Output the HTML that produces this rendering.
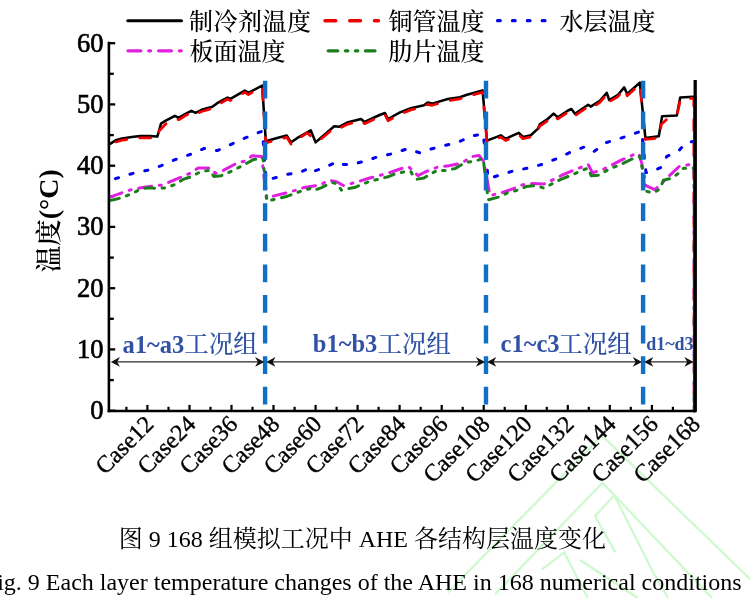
<!DOCTYPE html>
<html><head><meta charset="utf-8">
<style>
html,body{margin:0;padding:0;background:#fff;}
body{width:750px;height:598px;overflow:hidden;position:relative;}
svg{position:absolute;left:0;top:0;}
.tl{font-family:"Liberation Serif","Noto Serif CJK SC",serif;font-size:26.5px;fill:#000;stroke:#000;stroke-width:0.65px;}
.xl{font-family:"Liberation Serif",serif;font-size:24px;fill:#000;stroke:#000;stroke-width:0.35px;}
.lg{font-family:"Liberation Serif","Noto Serif CJK SC",serif;font-size:24px;font-weight:500;fill:#000;}
.gpl{font-family:"Liberation Serif",serif;font-size:24.5px;font-weight:bold;fill:#3152a4;}
.gpc{font-family:"Liberation Serif","Noto Serif CJK SC",serif;font-size:24.5px;font-weight:500;fill:#3152a4;}
.cap{font-family:"Liberation Serif","Noto Serif CJK SC",serif;font-size:24px;fill:#000;}
.yl{font-family:"Liberation Serif","Noto Serif CJK SC",serif;font-size:26px;fill:#000;}
</style></head>
<body>
<svg width="750" height="598" viewBox="0 0 750 598">
<g fill="none" stroke="#cdf9cd" stroke-width="2.2" stroke-linejoin="miter">
<polyline points="447.8,592.4 602,435.6 750,579"/>
<polyline points="495,594.4 602.5,482.8 712,598"/>
<polyline points="615.3,552.4 595,516 614.3,495.3 652.8,571.7 668,598"/>
<polyline points="541.7,569.6 564.2,552.4 587.7,598"/>
<polyline points="580,560 637.8,598"/>
</g>
<line x1="108.9" y1="410.7" x2="115.2" y2="410.7" stroke="#000" stroke-width="2.3"/>
<line x1="108.9" y1="380.1" x2="113.8" y2="380.1" stroke="#000" stroke-width="2.3"/>
<line x1="108.9" y1="349.4" x2="115.2" y2="349.4" stroke="#000" stroke-width="2.3"/>
<line x1="108.9" y1="318.8" x2="113.8" y2="318.8" stroke="#000" stroke-width="2.3"/>
<line x1="108.9" y1="288.2" x2="115.2" y2="288.2" stroke="#000" stroke-width="2.3"/>
<line x1="108.9" y1="257.6" x2="113.8" y2="257.6" stroke="#000" stroke-width="2.3"/>
<line x1="108.9" y1="226.9" x2="115.2" y2="226.9" stroke="#000" stroke-width="2.3"/>
<line x1="108.9" y1="196.3" x2="113.8" y2="196.3" stroke="#000" stroke-width="2.3"/>
<line x1="108.9" y1="165.7" x2="115.2" y2="165.7" stroke="#000" stroke-width="2.3"/>
<line x1="108.9" y1="135.1" x2="113.8" y2="135.1" stroke="#000" stroke-width="2.3"/>
<line x1="108.9" y1="104.4" x2="115.2" y2="104.4" stroke="#000" stroke-width="2.3"/>
<line x1="108.9" y1="73.8" x2="113.8" y2="73.8" stroke="#000" stroke-width="2.3"/>
<line x1="108.9" y1="43.2" x2="115.2" y2="43.2" stroke="#000" stroke-width="2.3"/>
<line x1="126.4" y1="410.7" x2="126.4" y2="406.8" stroke="#000" stroke-width="2.2"/>
<line x1="147.4" y1="410.7" x2="147.4" y2="404.9" stroke="#000" stroke-width="2.2"/>
<line x1="168.5" y1="410.7" x2="168.5" y2="406.8" stroke="#000" stroke-width="2.2"/>
<line x1="189.5" y1="410.7" x2="189.5" y2="404.9" stroke="#000" stroke-width="2.2"/>
<line x1="210.5" y1="410.7" x2="210.5" y2="406.8" stroke="#000" stroke-width="2.2"/>
<line x1="231.5" y1="410.7" x2="231.5" y2="404.9" stroke="#000" stroke-width="2.2"/>
<line x1="252.5" y1="410.7" x2="252.5" y2="406.8" stroke="#000" stroke-width="2.2"/>
<line x1="273.5" y1="410.7" x2="273.5" y2="404.9" stroke="#000" stroke-width="2.2"/>
<line x1="294.6" y1="410.7" x2="294.6" y2="406.8" stroke="#000" stroke-width="2.2"/>
<line x1="315.6" y1="410.7" x2="315.6" y2="404.9" stroke="#000" stroke-width="2.2"/>
<line x1="336.6" y1="410.7" x2="336.6" y2="406.8" stroke="#000" stroke-width="2.2"/>
<line x1="357.6" y1="410.7" x2="357.6" y2="404.9" stroke="#000" stroke-width="2.2"/>
<line x1="378.6" y1="410.7" x2="378.6" y2="406.8" stroke="#000" stroke-width="2.2"/>
<line x1="399.6" y1="410.7" x2="399.6" y2="404.9" stroke="#000" stroke-width="2.2"/>
<line x1="420.7" y1="410.7" x2="420.7" y2="406.8" stroke="#000" stroke-width="2.2"/>
<line x1="441.7" y1="410.7" x2="441.7" y2="404.9" stroke="#000" stroke-width="2.2"/>
<line x1="462.7" y1="410.7" x2="462.7" y2="406.8" stroke="#000" stroke-width="2.2"/>
<line x1="483.7" y1="410.7" x2="483.7" y2="404.9" stroke="#000" stroke-width="2.2"/>
<line x1="504.7" y1="410.7" x2="504.7" y2="406.8" stroke="#000" stroke-width="2.2"/>
<line x1="525.8" y1="410.7" x2="525.8" y2="404.9" stroke="#000" stroke-width="2.2"/>
<line x1="546.8" y1="410.7" x2="546.8" y2="406.8" stroke="#000" stroke-width="2.2"/>
<line x1="567.8" y1="410.7" x2="567.8" y2="404.9" stroke="#000" stroke-width="2.2"/>
<line x1="588.8" y1="410.7" x2="588.8" y2="406.8" stroke="#000" stroke-width="2.2"/>
<line x1="609.8" y1="410.7" x2="609.8" y2="404.9" stroke="#000" stroke-width="2.2"/>
<line x1="630.8" y1="410.7" x2="630.8" y2="406.8" stroke="#000" stroke-width="2.2"/>
<line x1="651.9" y1="410.7" x2="651.9" y2="404.9" stroke="#000" stroke-width="2.2"/>
<line x1="672.9" y1="410.7" x2="672.9" y2="406.8" stroke="#000" stroke-width="2.2"/>
<line x1="693.9" y1="410.7" x2="693.9" y2="404.9" stroke="#000" stroke-width="2.2"/>
<polyline points="109.8,144.1 115.7,140.3 122.1,138.5 131.7,137.1 140.2,136.1 149.8,136.1 157.3,136.6 158.9,131.3 161.0,123.6 165.8,120.6 174.9,115.8 178.6,117.9 185.0,114.2 191.4,110.8 195.6,112.8 201.6,109.8 212.4,106.8 217.2,103.2 227.4,97.6 230.4,98.8 244.8,90.6 248.4,92.8 262.2,85.6 265.8,141.2 279.0,137.6 286.8,135.6 291.0,142.4 297.0,138.2 310.8,130.4 315.6,142.4 320.4,138.2 334.2,126.2 339.0,126.8 347.2,122.6 361.0,119.0 364.6,122.0 379.6,115.0 385.0,113.0 388.0,119.0 400.0,112.4 410.8,108.2 424.0,105.2 427.6,102.6 432.2,103.6 447.8,99.0 459.8,97.2 467.0,94.8 482.6,90.4 487.0,140.6 500.8,135.4 505.6,138.8 518.8,132.8 523.0,137.0 530.8,135.2 538.0,128.6 539.8,124.4 547.6,119.0 553.6,113.6 557.8,117.2 568.0,110.5 571.4,109.0 575.0,113.8 588.2,104.8 590.6,106.6 599.6,101.0 606.8,92.8 609.2,100.0 617.6,95.2 624.2,87.4 627.2,94.0 639.8,82.6 645.4,138.0 658.8,136.2 662.1,116.2 676.8,115.5 680.2,97.4 692.9,96.8 695.2,96.8 695.2,411.0" fill="none" stroke="#000" stroke-width="2.55" stroke-linejoin="round"/>
<polyline points="109.8,145.8 115.7,142.0 122.1,140.2 131.7,138.8 140.2,137.8 149.8,137.8 157.3,138.3 159.0,131.0 168.5,121.3 179.7,119.3 185.0,115.8 191.4,112.5 195.6,114.5 201.6,111.5 212.4,108.5 217.2,104.9 227.4,99.3 230.4,100.5 244.8,92.3 248.4,94.5 262.2,87.3 265.8,142.9 279.0,139.3 286.8,137.3 291.0,144.1 296.4,140.0 307.2,132.8 315.0,140.0 320.4,139.5 334.2,127.9 339.0,128.5 347.2,124.3 361.0,120.7 364.6,123.7 379.6,116.7 385.0,114.7 388.0,120.7 400.0,114.1 410.8,109.9 424.0,106.9 427.6,104.3 432.2,105.3 447.8,100.7 459.8,98.9 467.0,96.5 482.6,92.1 487.0,142.3 500.8,137.1 505.6,140.5 518.8,134.5 523.0,138.7 530.8,136.9 538.0,130.3 539.8,126.1 547.6,120.7 553.6,115.3 557.8,118.9 568.0,112.2 571.4,110.7 575.0,115.5 588.2,106.5 590.6,108.3 599.6,102.7 606.8,94.5 609.2,101.7 617.6,96.9 624.2,89.1 627.2,95.7 639.8,84.3 645.4,139.5 658.8,137.8 661.4,124.2 669.5,116.8 677.5,112.8 680.6,98.8 692.2,98.4 693.8,98.8 694.2,411.0" fill="none" stroke="#f00000" stroke-width="2.75" stroke-dasharray="11 13.2" stroke-dashoffset="17" stroke-linecap="round" stroke-linejoin="round"/>
<polyline points="109.5,180.5 118.8,177.6 135.6,172.6 150.0,169.8 161.4,165.6 175.8,159.4 190.8,154.2 204.2,148.4 217.4,150.6 230.6,144.6 243.8,138.6 258.2,132.6 262.5,131.2 266.0,180.0 269.4,179.4 286.2,174.6 300.0,172.2 311.0,167.5 314.5,171.0 323.4,168.0 336.6,162.0 339.0,164.2 350.2,164.8 364.0,161.4 379.0,156.4 392.2,153.8 407.2,148.8 419.8,152.8 430.0,149.2 445.4,145.4 459.8,141.4 471.2,136.2 483.2,133.8 488.2,178.8 500.8,174.6 515.2,170.4 529.6,167.8 542.8,164.2 557.8,158.2 571.4,151.8 585.8,146.4 594.2,151.4 605.6,142.8 618.2,139.0 630.2,135.0 641.6,131.0 646.0,172.5 648.7,172.8 660.8,167.5 666.8,156.4 678.2,151.4 686.2,142.5 692.9,141.4 694.3,142.0 694.3,411.0" fill="none" stroke="#0000ee" stroke-width="3.0" stroke-dasharray="3.2 12" stroke-dashoffset="9" stroke-linecap="round" stroke-linejoin="round"/>
<polyline points="109.5,197.0 112.8,196.2 125.4,191.4 133.8,189.0 141.0,187.8 153.0,186.0 162.6,185.0 168.6,182.4 183.0,176.2 189.8,173.4 198.2,168.0 210.8,168.0 215.6,173.4 223.4,170.4 236.6,163.2 245.6,160.8 252.2,155.8 261.8,156.6 266.4,198.6 273.0,196.2 287.4,192.6 295.8,190.2 303.0,187.8 313.8,186.0 321.0,184.8 328.2,180.0 336.6,181.8 343.7,185.6 358.0,181.6 370.6,177.8 385.6,173.8 391.6,172.0 400.0,169.0 408.4,166.6 418.0,175.6 425.2,172.0 438.2,166.8 449.0,165.8 458.6,163.8 465.2,160.8 471.8,156.6 479.0,155.4 483.8,161.4 490.0,195.6 502.0,192.6 514.0,188.4 522.4,184.8 532.0,183.6 544.0,184.0 551.2,180.6 562.0,175.2 570.8,171.4 579.8,167.8 588.2,164.6 592.4,172.8 600.8,170.4 610.4,165.8 621.2,160.2 629.6,156.6 636.8,153.0 639.2,154.8 642.0,164.1 646.0,185.6 654.7,189.6 660.8,184.2 668.8,176.2 679.5,166.2 692.2,164.1 694.3,164.0 694.3,411.0" fill="none" stroke="#e020e0" stroke-width="3.0" stroke-dasharray="13 7.8 2 7.8" stroke-linecap="round" stroke-linejoin="round"/>
<polyline points="109.5,200.5 113.4,199.8 123.0,197.4 132.6,193.2 142.2,188.4 149.4,187.8 156.6,188.4 166.2,187.8 175.8,184.2 183.0,179.4 192.2,176.4 200.6,171.6 210.2,170.2 213.8,176.4 221.0,175.8 230.6,171.6 239.0,167.4 246.8,163.2 253.4,159.6 263.0,158.4 267.0,201.0 277.8,198.6 287.4,196.2 297.0,192.6 305.4,189.6 311.4,188.4 314.4,190.2 321.0,187.8 331.8,182.4 337.8,184.2 341.4,190.2 345.0,189.0 354.4,187.6 368.8,181.6 378.4,179.2 388.0,176.8 395.2,173.8 403.6,172.0 410.8,171.4 412.6,175.0 416.8,179.2 424.0,178.0 428.8,175.0 437.0,170.4 445.4,170.4 455.0,168.6 461.0,165.0 468.2,162.0 474.2,161.4 483.2,158.4 488.2,199.8 499.6,196.8 508.0,192.6 517.6,190.2 526.0,186.6 535.6,185.4 544.0,188.2 552.4,183.6 562.0,178.8 570.8,175.4 579.2,171.6 588.2,168.0 591.2,175.8 598.4,175.2 610.4,168.6 622.4,163.8 632.0,159.0 639.8,156.6 642.7,170.8 644.7,190.9 653.4,192.9 660.1,188.9 663.4,180.2 671.5,178.2 678.2,173.5 683.5,168.2 691.5,168.2 694.3,168.0 694.3,411.0" fill="none" stroke="#1a7f1a" stroke-width="3.0" stroke-dasharray="10 7.5 2.5 7.5 2.5 7.5" stroke-linecap="round" stroke-linejoin="round"/>
<line x1="693.9" y1="98.5" x2="693.9" y2="411" stroke="#f00000" stroke-width="1.6"/>
<line x1="695.2" y1="80" x2="695.2" y2="411" stroke="#000" stroke-width="3.3"/>
<line x1="265.1" y1="80.8" x2="265.1" y2="411" stroke="#1170c6" stroke-width="4.4" stroke-dasharray="17.8 12.8"/>
<line x1="486.0" y1="80.8" x2="486.0" y2="411" stroke="#1170c6" stroke-width="4.4" stroke-dasharray="17.8 12.8"/>
<line x1="643.1" y1="80.8" x2="643.1" y2="411" stroke="#1170c6" stroke-width="4.4" stroke-dasharray="17.8 12.8"/>
<line x1="108.9" y1="41.8" x2="108.9" y2="412.3" stroke="#000" stroke-width="2.6"/>
<line x1="107.60000000000001" y1="411.0" x2="696.7" y2="411.0" stroke="#000" stroke-width="2.6"/>
<line x1="113.8" y1="361.9" x2="261.3" y2="361.9" stroke="#2a2a2a" stroke-width="1.25"/><path d="M110.8,361.9 l9.2,-4.9 l-2.8,4.9 l2.8,4.9 z" fill="#111"/><path d="M264.3,361.9 l-9.2,-4.9 l2.8,4.9 l-2.8,4.9 z" fill="#111"/>
<line x1="269.3" y1="361.9" x2="482.1" y2="361.9" stroke="#2a2a2a" stroke-width="1.25"/><path d="M266.3,361.9 l9.2,-4.9 l-2.8,4.9 l2.8,4.9 z" fill="#111"/><path d="M485.1,361.9 l-9.2,-4.9 l2.8,4.9 l-2.8,4.9 z" fill="#111"/>
<line x1="490.1" y1="361.9" x2="639.0" y2="361.9" stroke="#2a2a2a" stroke-width="1.25"/><path d="M487.1,361.9 l9.2,-4.9 l-2.8,4.9 l2.8,4.9 z" fill="#111"/><path d="M642.0,361.9 l-9.2,-4.9 l2.8,4.9 l-2.8,4.9 z" fill="#111"/>
<line x1="647.1" y1="361.9" x2="690.6" y2="361.9" stroke="#2a2a2a" stroke-width="1.25"/><path d="M644.1,361.9 l9.2,-4.9 l-2.8,4.9 l2.8,4.9 z" fill="#111"/><path d="M693.6,361.9 l-9.2,-4.9 l2.8,4.9 l-2.8,4.9 z" fill="#111"/>
<text x="103.5" y="419.0" class="tl" text-anchor="end">0</text>
<text x="103.5" y="357.8" class="tl" text-anchor="end">10</text>
<text x="103.5" y="296.5" class="tl" text-anchor="end">20</text>
<text x="103.5" y="235.2" class="tl" text-anchor="end">30</text>
<text x="103.5" y="174.0" class="tl" text-anchor="end">40</text>
<text x="103.5" y="112.7" class="tl" text-anchor="end">50</text>
<text x="103.5" y="51.5" class="tl" text-anchor="end">60</text>
<text class="xl" text-anchor="end" transform="translate(154.9,425.5) rotate(-45)">Case12</text>
<text class="xl" text-anchor="end" transform="translate(197.0,425.5) rotate(-45)">Case24</text>
<text class="xl" text-anchor="end" transform="translate(239.0,425.5) rotate(-45)">Case36</text>
<text class="xl" text-anchor="end" transform="translate(281.0,425.5) rotate(-45)">Case48</text>
<text class="xl" text-anchor="end" transform="translate(323.1,425.5) rotate(-45)">Case60</text>
<text class="xl" text-anchor="end" transform="translate(365.1,425.5) rotate(-45)">Case72</text>
<text class="xl" text-anchor="end" transform="translate(407.1,425.5) rotate(-45)">Case84</text>
<text class="xl" text-anchor="end" transform="translate(449.2,425.5) rotate(-45)">Case96</text>
<text class="xl" text-anchor="end" transform="translate(491.2,425.5) rotate(-45)">Case108</text>
<text class="xl" text-anchor="end" transform="translate(533.3,425.5) rotate(-45)">Case120</text>
<text class="xl" text-anchor="end" transform="translate(575.3,425.5) rotate(-45)">Case132</text>
<text class="xl" text-anchor="end" transform="translate(617.3,425.5) rotate(-45)">Case144</text>
<text class="xl" text-anchor="end" transform="translate(659.4,425.5) rotate(-45)">Case156</text>
<text class="xl" text-anchor="end" transform="translate(701.4,425.5) rotate(-45)">Case168</text>
<!-- legend -->
<line x1="127.8" y1="20.7" x2="181.5" y2="20.7" stroke="#000" stroke-width="3.1" stroke-linecap="round"/>
<text x="189" y="29.5" class="lg" style="letter-spacing:0.5px">制冷剂温度</text>
<line x1="325" y1="20.7" x2="378.5" y2="20.7" stroke="#f00000" stroke-width="3.4" stroke-linecap="round" stroke-dasharray="10.8 13.9"/>
<text x="388.5" y="29.5" class="lg">铜管温度</text>
<line x1="497.6" y1="20.7" x2="546" y2="20.7" stroke="#0000ee" stroke-width="3.3" stroke-linecap="round" stroke-dasharray="2.6 12.3"/>
<text x="559.5" y="29.5" class="lg">水层温度</text>
<line x1="128" y1="50.8" x2="182" y2="50.8" stroke="#e020e0" stroke-width="3.3" stroke-linecap="round" stroke-dasharray="12.8 8 1.8 8"/>
<text x="189.5" y="59.5" class="lg">板面温度</text>
<line x1="328.2" y1="50.8" x2="376" y2="50.8" stroke="#1a7f1a" stroke-width="3.3" stroke-linecap="round" stroke-dasharray="9.6 7.6 2.4 7.6 2.4 7.6"/>
<text x="388.5" y="59.5" class="lg">肋片温度</text>
<!-- y label -->
<text class="yl" transform="translate(57.9,272.2) rotate(-90)"><tspan style="font-size:26.5px;font-weight:600">温度</tspan><tspan style="font-size:28px;font-weight:bold">(°C)</tspan></text>
<!-- group labels -->
<text x="122.6" y="352.6" class="gpl">a1~a3</text><text x="184.3" y="353.3" class="gpc">工况组</text>
<text x="312.8" y="352.4" class="gpl">b1~b3</text><text x="377.6" y="353.3" class="gpc">工况组</text>
<text x="500.6" y="352.4" class="gpl">c1~c3</text><text x="558.2" y="353.3" class="gpc">工况组</text>
<text x="646.2" y="349.7" class="gpl" style="font-size:18px">d1~d3</text>
<!-- caption -->
<text x="118.7" y="546.5" class="cap">图 9 168 组模拟工况中 AHE 各结构层温度变化</text>
<text x="-16.2" y="590" class="cap">Fig. 9 Each layer temperature changes of the AHE in 168 numerical conditions</text>
</svg>
</body></html>
